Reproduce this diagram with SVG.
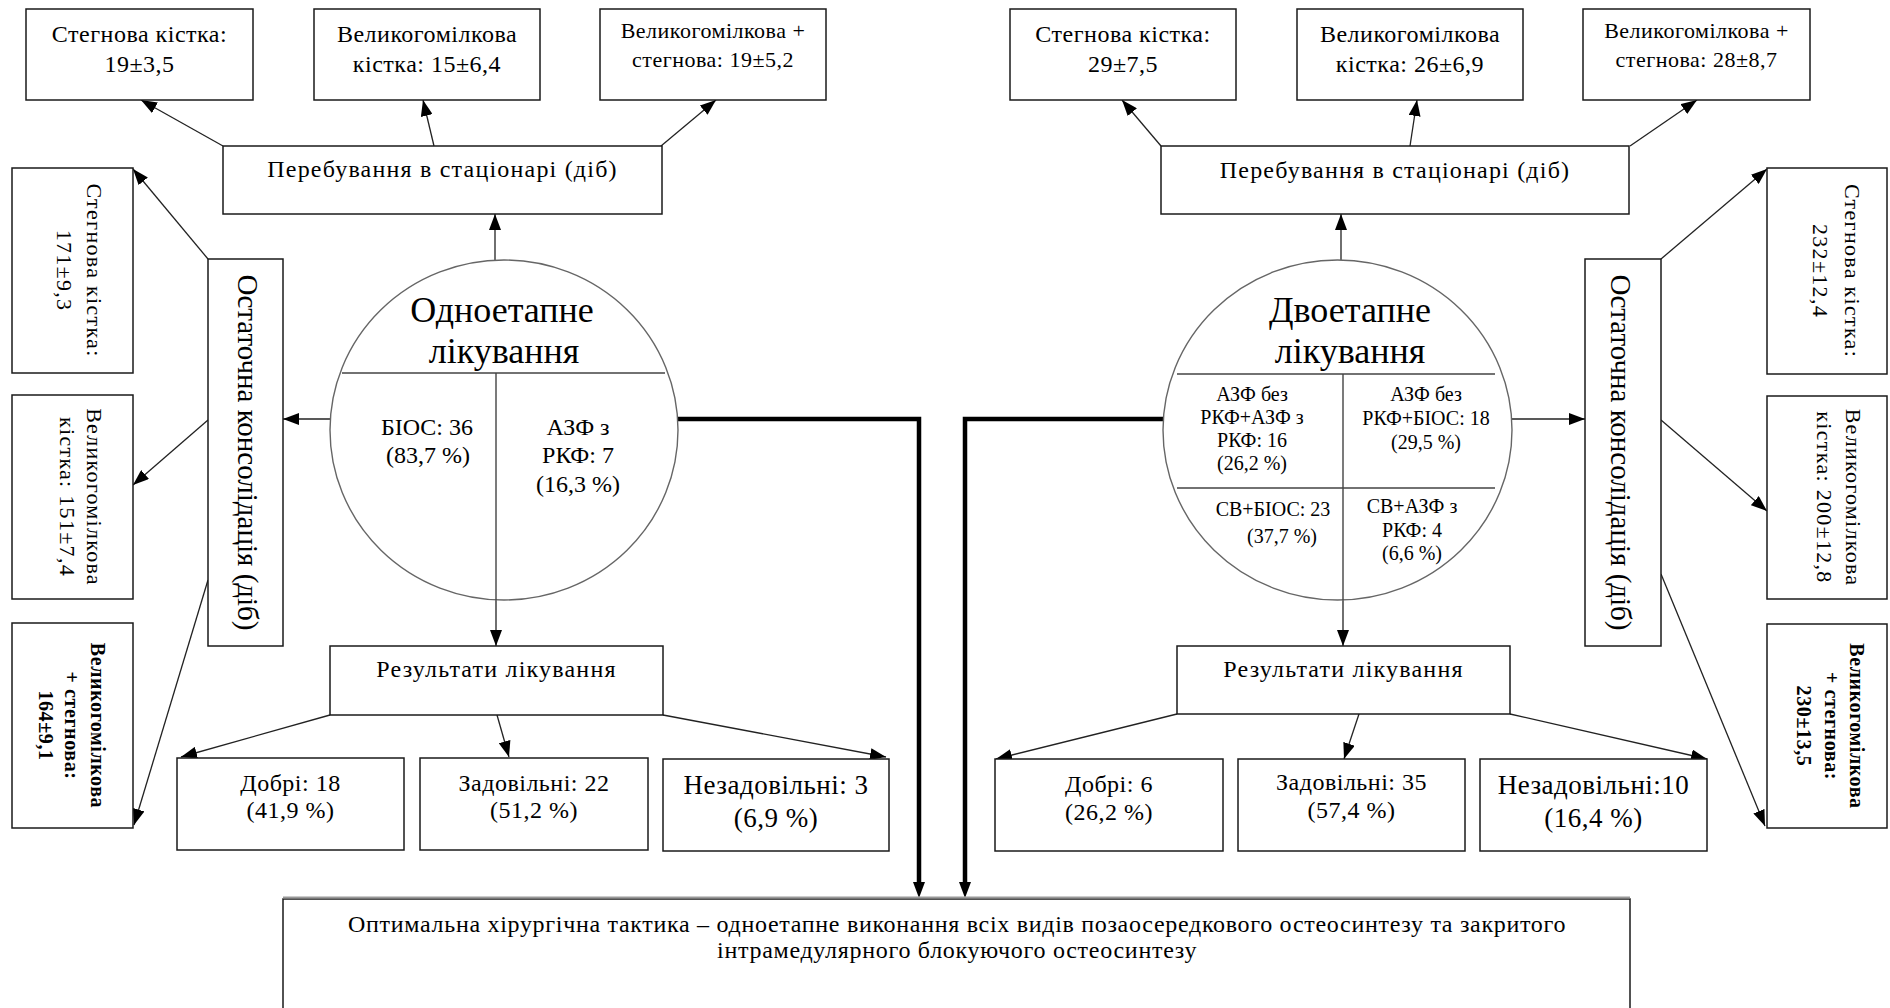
<svg xmlns="http://www.w3.org/2000/svg" width="1890" height="1008" viewBox="0 0 1890 1008">
<defs>
<style>
text{font-family:"Liberation Serif","Times New Roman",serif;fill:#000;text-anchor:middle}
.box{fill:#fff;stroke:#1a1a1a;stroke-width:1.5}
.circ{fill:#fff;stroke:#666;stroke-width:1.4}
.div{stroke:#444;stroke-width:1.4;fill:none}
.c{stroke:#222;stroke-width:1.3;fill:none;marker-end:url(#ah)}
.ct{stroke:#000;stroke-width:4.5;fill:none;marker-end:url(#aht)}
.f24{font-size:24px;letter-spacing:0.5px}
.f24w{font-size:24px;letter-spacing:1.2px}
.f22{font-size:22px;letter-spacing:0.5px}
.f27{font-size:27px;letter-spacing:0.5px}
.side{font-size:22px;letter-spacing:1.3px}
.sideb{font-size:20px;font-weight:bold;letter-spacing:0.6px}
.vert{font-size:29px}
.title{font-size:36px}
.q1{font-size:24px}
.q2{font-size:20px}
</style>
<marker id="ah" viewBox="0 0 16 12" refX="16" refY="6" markerWidth="16" markerHeight="12" markerUnits="userSpaceOnUse" orient="auto"><path d="M0,0L16,6L0,12z" fill="#000"/></marker>
<marker id="aht" viewBox="0 0 16 12" refX="3" refY="6" markerWidth="16" markerHeight="12" markerUnits="userSpaceOnUse" orient="auto"><path d="M0,0L16,6L0,12z" fill="#000"/></marker>
</defs>
<rect width="1890" height="1008" fill="#fff"/>

<g id="connectors">
<path class="c" d="M223,146L141,100"/>
<path class="c" d="M434,146L423,100"/>
<path class="c" d="M661,146L716,100"/>
<path class="c" d="M495,260L495,214"/>
<path class="c" d="M330,419L283,419"/>
<path class="c" d="M208,259L133,169"/>
<path class="c" d="M208,420L133,485"/>
<path class="c" d="M208,580L134,825"/>
<path class="c" d="M496,600L496,646"/>
<path class="c" d="M330,715L181,757"/>
<path class="c" d="M497,715L509,757"/>
<path class="c" d="M663,715L886,757"/>
<path class="ct" d="M678,419L919,419L919,885"/>
<path class="c" d="M1161,146L1122,100"/>
<path class="c" d="M1410,146L1417,100"/>
<path class="c" d="M1630,146L1697,100"/>
<path class="c" d="M1341,260L1341,214"/>
<path class="c" d="M1512,419L1585,419"/>
<path class="c" d="M1661,259L1767,169"/>
<path class="c" d="M1661,420L1767,511"/>
<path class="c" d="M1661,574L1765,826"/>
<path class="c" d="M1343,600L1343,646"/>
<path class="c" d="M1177,714L996,759"/>
<path class="c" d="M1359,714L1344,759"/>
<path class="c" d="M1510,714L1707,759"/>
<path class="ct" d="M1163,419L965,419L965,885"/>
</g>

<g id="stay-left-femur">
<rect class="box" x="26" y="9" width="227" height="91"/>
<text class="f24" x="139.5" y="42">Стегнова кістка:</text>
<text class="f24" x="139.5" y="72">19±3,5</text>
</g>
<g id="stay-left-tibia">
<rect class="box" x="314" y="9" width="226" height="91"/>
<text class="f24" x="427" y="42">Великогомілкова</text>
<text class="f24" x="427" y="72">кістка: 15±6,4</text>
</g>
<g id="stay-left-both">
<rect class="box" x="600" y="9" width="226" height="91"/>
<text class="f22" x="713" y="38">Великогомілкова +</text>
<text class="f22" x="713" y="67">стегнова: 19±5,2</text>
</g>
<g id="stay-left">
<rect class="box" x="223" y="146" width="439" height="68"/>
<text class="f24w" x="442.5" y="177">Перебування в стаціонарі (діб)</text>
</g>
<g id="cons-left">
<rect class="box" x="208" y="259" width="75" height="387"/>
<text class="vert" transform="translate(245.5,452.5) rotate(90)" y="8">Остаточна консолідація (діб)</text>
</g>
<g id="cons-left-femur">
<rect class="box" x="12" y="168" width="121" height="205"/>
<g transform="translate(72.5,270.5) rotate(90)">
<text class="side" y="-14.5">Стегнова кістка:</text>
<text class="side" y="15.5">171±9,3</text>
</g>
</g>
<g id="cons-left-tibia">
<rect class="box" x="12" y="395" width="121" height="204"/>
<g transform="translate(72.5,497) rotate(90)">
<text class="side" y="-14">Великогомілкова</text>
<text class="side" y="13">кістка: 151±7,4</text>
</g>
</g>
<g id="cons-left-both">
<rect class="box" x="12" y="623" width="121" height="205"/>
<g transform="translate(72.5,725.5) rotate(90)">
<text class="sideb" y="-18.5">Великогомілкова</text>
<text class="sideb" y="7.5">+ стегнова:</text>
<text class="sideb" y="34">164±9,1</text>
</g>
</g>
<g id="one-stage">
<ellipse class="circ" cx="504" cy="430" rx="174" ry="170"/>
<path class="div" d="M342,373L665,373M496,373L496,600"/>
<text class="title" x="502" y="322">Одноетапне</text>
<text class="title" x="504" y="363">лікування</text>
<text class="q1" x="427" y="435">БІОС: 36</text>
<text class="q1" x="428" y="463">(83,7 %)</text>
<text class="q1" x="578" y="435">АЗФ з</text>
<text class="q1" x="578" y="463">РКФ: 7</text>
<text class="q1" x="578" y="492">(16,3 %)</text>
</g>
<g id="results-left">
<rect class="box" x="330" y="646" width="333" height="69"/>
<text class="f24w" x="496.5" y="677">Результати лікування</text>
</g>
<g id="good-left">
<rect class="box" x="177" y="758" width="227" height="92"/>
<text class="f24" x="290.5" y="791">Добрі: 18</text>
<text class="f24" x="290.5" y="818">(41,9 %)</text>
</g>
<g id="sat-left">
<rect class="box" x="420" y="758" width="228" height="92"/>
<text class="f24" x="534" y="791">Задовільні: 22</text>
<text class="f24" x="534" y="818">(51,2 %)</text>
</g>
<g id="unsat-left">
<rect class="box" x="663" y="759" width="226" height="92"/>
<text class="f27" x="776" y="794">Незадовільні: 3</text>
<text class="f27" x="776" y="827">(6,9 %)</text>
</g>

<g id="stay-right-femur">
<rect class="box" x="1010" y="9" width="226" height="91"/>
<text class="f24" x="1123" y="42">Стегнова кістка:</text>
<text class="f24" x="1123" y="72">29±7,5</text>
</g>
<g id="stay-right-tibia">
<rect class="box" x="1297" y="9" width="226" height="91"/>
<text class="f24" x="1410" y="42">Великогомілкова</text>
<text class="f24" x="1410" y="72">кістка: 26±6,9</text>
</g>
<g id="stay-right-both">
<rect class="box" x="1583" y="9" width="227" height="91"/>
<text class="f22" x="1696.5" y="38">Великогомілкова +</text>
<text class="f22" x="1696.5" y="67">стегнова: 28±8,7</text>
</g>
<g id="stay-right">
<rect class="box" x="1161" y="146" width="468" height="68"/>
<text class="f24w" x="1395" y="178">Перебування в стаціонарі (діб)</text>
</g>
<g id="cons-right">
<rect class="box" x="1585" y="259" width="76" height="387"/>
<text class="vert" transform="translate(1623,452.5) rotate(90)" y="12">Остаточна консолідація (діб)</text>
</g>
<g id="cons-right-femur">
<rect class="box" x="1767" y="168" width="120" height="206"/>
<g transform="translate(1827,271) rotate(90)">
<text class="side" y="-18">Стегнова кістка:</text>
<text class="side" y="14">232±12,4</text>
</g>
</g>
<g id="cons-right-tibia">
<rect class="box" x="1767" y="396" width="120" height="203"/>
<g transform="translate(1827,497.5) rotate(90)">
<text class="side" y="-19">Великогомілкова</text>
<text class="side" y="10">кістка: 200±12,8</text>
</g>
</g>
<g id="cons-right-both">
<rect class="box" x="1767" y="624" width="120" height="204"/>
<g transform="translate(1827,726) rotate(90)">
<text class="sideb" y="-23">Великогомілкова</text>
<text class="sideb" y="2">+ стегнова:</text>
<text class="sideb" y="30">230±13,5</text>
</g>
</g>
<g id="two-stage">
<ellipse class="circ" cx="1337.5" cy="430" rx="174.5" ry="170"/>
<path class="div" d="M1177,374L1495,374M1177,488L1495,488M1343,374L1343,600"/>
<text class="title" x="1350" y="322">Двоетапне</text>
<text class="title" x="1350" y="363">лікування</text>
<text class="q2" x="1252" y="401">АЗФ без</text>
<text class="q2" x="1252" y="424">РКФ+АЗФ з</text>
<text class="q2" x="1252" y="447">РКФ: 16</text>
<text class="q2" x="1252" y="470">(26,2 %)</text>
<text class="q2" x="1426" y="401">АЗФ без</text>
<text class="q2" x="1426" y="425">РКФ+БІОС: 18</text>
<text class="q2" x="1426" y="449">(29,5 %)</text>
<text class="q2" x="1273" y="516">СВ+БІОС: 23</text>
<text class="q2" x="1282" y="543">(37,7 %)</text>
<text class="q2" x="1412" y="513">СВ+АЗФ з</text>
<text class="q2" x="1412" y="537">РКФ: 4</text>
<text class="q2" x="1412" y="560">(6,6 %)</text>
</g>
<g id="results-right">
<rect class="box" x="1177" y="646" width="333" height="68"/>
<text class="f24w" x="1343.5" y="677">Результати лікування</text>
</g>
<g id="good-right">
<rect class="box" x="995" y="759" width="228" height="92"/>
<text class="f24" x="1109" y="792">Добрі: 6</text>
<text class="f24" x="1109" y="820">(26,2 %)</text>
</g>
<g id="sat-right">
<rect class="box" x="1238" y="759" width="227" height="92"/>
<text class="f24" x="1351.5" y="790">Задовільні: 35</text>
<text class="f24" x="1351.5" y="818">(57,4 %)</text>
</g>
<g id="unsat-right">
<rect class="box" x="1480" y="759" width="227" height="92"/>
<text class="f27" x="1593.5" y="794">Незадовільні:10</text>
<text class="f27" x="1593.5" y="827">(16,4 %)</text>
</g>

<g id="optimal">
<rect class="box" x="283" y="899" width="1347" height="130"/>
<line x1="283" y1="897.5" x2="1630" y2="897.5" stroke="#999" stroke-width="2"/>
<text class="f24" x="957" y="932" textLength="1218" lengthAdjust="spacing">Оптимальна хірургічна тактика – одноетапне виконання всіх видів позаосередкового остеосинтезу та закритого</text>
<text class="f24" x="957" y="958" textLength="480" lengthAdjust="spacing">інтрамедулярного блокуючого остеосинтезу</text>
</g>
</svg>
